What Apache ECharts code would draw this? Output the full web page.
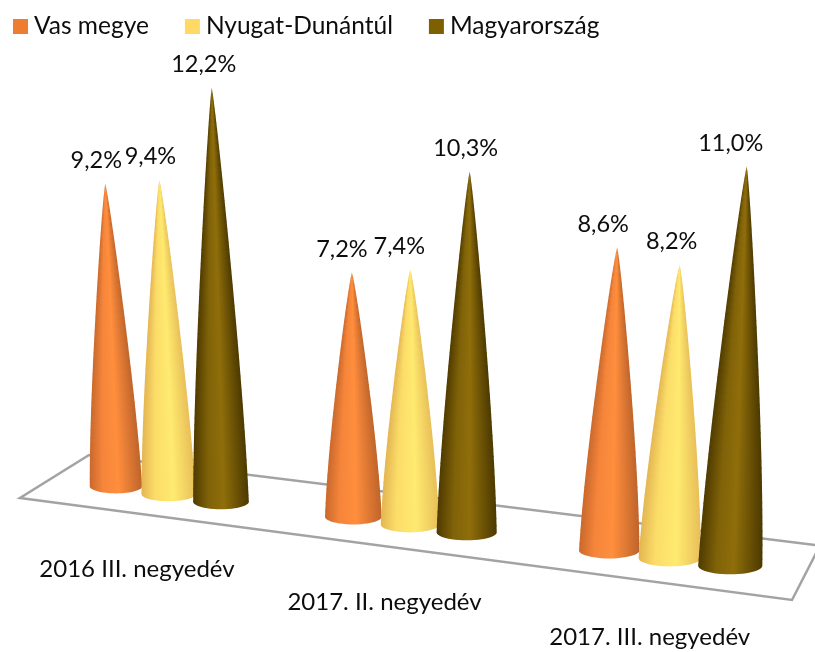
<!DOCTYPE html>
<html>
<head>
<meta charset="utf-8">
<style>
  html, body { margin: 0; padding: 0; background: #fff; }
  #chart { width: 815px; height: 652px; }
</style>
</head>
<body>
<div id="chart"></div>
<script src="https://cdn.jsdelivr.net/npm/echarts@6/dist/echarts.min.js"></script>
<script>
const quarters = ['2016 III. negyedév', '2017. II. negyedév', '2017. III. negyedév'];
const regions = ['Vas megye', 'Nyugat-Dunántúl', 'Magyarország'];
const vasMegye = [9.2, 7.2, 8.6];
const nyugatDunantul = [9.4, 7.4, 8.2];
const magyarorszag = [12.2, 10.3, 11.0];
const regionValues = [vasMegye, nyugatDunantul, magyarorszag];

const FONT = 'Lato, "Open Sans", sans-serif';
const legendColors = ['#ed7d31', '#ffd966', '#7f6000'];
const coneStops = [
  [[0, '#c9682c'], [0.25, '#f5853a'], [0.55, '#ff8e3d'], [1, '#bf642b']],
  [[0, '#e3b552'], [0.25, '#fbdc68'], [0.6, '#ffea70'], [1, '#e8bf58']],
  [[0, '#4f3b00'], [0.28, '#806208'], [0.55, '#8f6e0a'], [1, '#4c3900']]
];

// each quarter has its own grid: the floor is in perspective, so the scale grows to the right
const gridLayout = [
  { left: 89.75, width: 157.5, top: 26, bottom: 494, nameGap: 63, namePad: 63 },
  { left: 325, width: 170, top: 41.6, bottom: 524.5, nameGap: 66, namePad: 51 },
  { left: 579, width: 181.5, top: 57, bottom: 558, nameGap: 67, namePad: 40 }
];
// hand placed data labels, like in the original
const labelNudge = [[-9, -9, -8], [-10, -11, -4], [-14, -8, -16]];

// the sides bulge a little, the picture was rendered with perspective
function widen(t) {
  return Math.pow(t, 0.85) * (1.12 - 0.12 * Math.pow(t, 4));
}

function makeCone(params, api) {
  const q = Math.floor(params.seriesIndex / 3);
  const s = api.value(0);
  const val = api.value(1);
  const depth = s - 1;
  const base = api.coord([s, 0]);
  const top = api.coord([s, val]);
  const band = api.size([1, 0])[0];

  const r = band * 0.515 * (1 + depth * 0.03);
  const ry = r * 0.27;
  const h = (base[1] - top[1]) * (1 + depth * 0.015);
  const baseX = base[0];
  const baseY = base[1] + depth * 7.7;
  const tipX = baseX + (baseX - 400) * h * 1.25e-4;
  const tipY = baseY - h;
  const fill = new echarts.graphic.LinearGradient(0, 0, 1, 0,
    coneStops[s].map(function (c) { return { offset: c[0], color: c[1] }; }));

  const children = [];
  const n = Math.round(h / 7);
  for (let j = n; j > 0; j--) {
    const t0 = (j - 1) / n;
    const t1 = j / n;
    const points = [
      [tipX + (baseX - tipX) * t0 - r * widen(t0), tipY + h * t0],
      [tipX + (baseX - tipX) * t0 + r * widen(t0), tipY + h * t0]
    ];
    const cx = tipX + (baseX - tipX) * t1;
    const cy = tipY + h * t1;
    for (let a = 0; a <= 24; a++) {
      const ang = Math.PI * a / 24;
      points.push([cx + r * widen(t1) * Math.cos(ang), cy + ry * widen(t1) * Math.sin(ang)]);
    }
    children.push({ type: 'polygon', shape: { points: points }, style: { fill: fill } });
  }

  children.push({
    type: 'text',
    x: tipX + labelNudge[q][s],
    y: tipY - 23,
    style: {
      text: val.toFixed(1).replace('.', ',') + '%',
      font: '23.5px ' + FONT,
      fill: '#0d0d0d',
      align: 'center',
      verticalAlign: 'middle'
    }
  });
  return { type: 'group', children: children };
}

const series = [];
quarters.forEach(function (q, i) {
  regions.forEach(function (name, s) {
    series.push({
      name: name,
      type: 'custom',
      xAxisIndex: i,
      yAxisIndex: i,
      itemStyle: { color: legendColors[s] },
      renderItem: makeCone,
      data: [[s, regionValues[s][i]]]
    });
  });
});

const chart = echarts.init(document.getElementById('chart'));
chart.setOption({
  animation: false,
  backgroundColor: '#fff',
  legend: {
    data: regions,
    left: 13,
    top: 14,
    padding: 0,
    icon: 'rect',
    itemWidth: 15,
    itemHeight: 15,
    itemGap: 36,
    textStyle: { fontFamily: FONT, fontSize: 24.5, color: '#0d0d0d', padding: [0, 0, 0, 1] }
  },
  graphic: [{
    type: 'polygon',
    z: -1,
    shape: { points: [[20, 498], [792, 600], [820, 545.6], [89, 455]] },
    style: { fill: 'none', stroke: '#a3a3a3', lineWidth: 2.5 }
  }],
  grid: gridLayout.map(function (g) {
    return {
      left: g.left,
      width: g.width,
      top: g.top,
      height: g.bottom - g.top,
      outerBoundsMode: 'none'
    };
  }),
  xAxis: gridLayout.map(function (g, i) {
    return {
      type: 'category',
      gridIndex: i,
      data: regions,
      name: quarters[i],
      nameLocation: 'middle',
      nameGap: g.nameGap,
      nameTextStyle: {
        fontFamily: FONT,
        fontSize: 24,
        color: '#0d0d0d',
        padding: [0, g.namePad, 0, 0]
      },
      axisLine: { show: false },
      axisTick: { show: false },
      axisLabel: { show: false }
    };
  }),
  yAxis: gridLayout.map(function (g, i) {
    return { type: 'value', gridIndex: i, min: 0, max: 14, show: false };
  }),
  series: series
});
</script>
</body>
</html>
